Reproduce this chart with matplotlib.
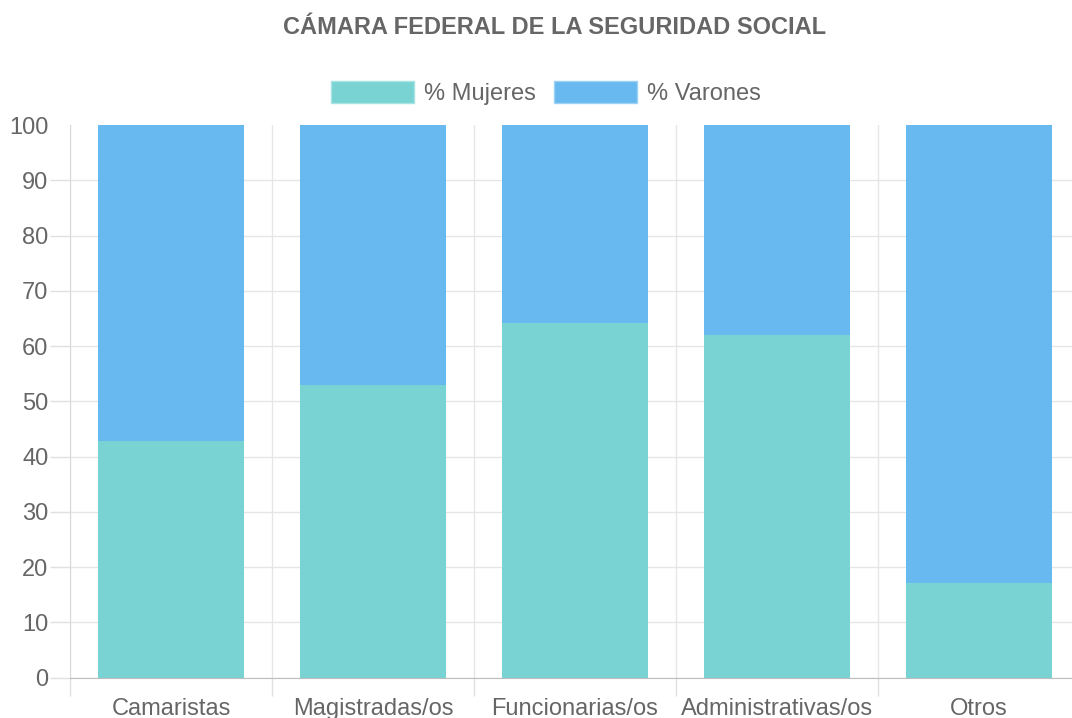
import numpy as np
import matplotlib
matplotlib.use("Agg")
import matplotlib.pyplot as plt
from matplotlib.patches import Patch

categorias = ["Camaristas", "Magistradas/os", "Funcionarias/os", "Administrativas/os", "Otros"]
mujeres = [42.9, 53.0, 64.2, 62.0, 17.1]
varones = [57.1, 47.0, 35.8, 38.0, 82.9]

color_mujeres = "#7AD3D3"
color_varones = "#67B9F0"
gris_texto = "#666666"
gris_grilla = "#E6E6E6"

plt.rcParams['font.family'] = ['Liberation Sans', 'DejaVu Sans']

fig = plt.figure(figsize=(10.72, 7.18), dpi=100)
# area de graficos en pixeles: x 70..1080 (recortada a la derecha), y 125..677.7
ax = fig.add_axes([70 / 1072, 40.3 / 718, 1010 / 1072, 552.7 / 718])

x = np.arange(len(categorias))
ax.bar(x, mujeres, 0.72, color=color_mujeres, zorder=2)
ax.bar(x, varones, 0.72, bottom=mujeres, color=color_varones, zorder=2)

ax.set_xlim(-0.5, len(categorias) - 0.5)
ax.set_ylim(0, 100)
ax.set_yticks(range(0, 101, 10))
ax.set_xticks(x)
ax.set_xticklabels(categorias)
ax.set_xticks(np.arange(-0.5, len(categorias), 1), minor=True)

ax.tick_params(axis='x', which='major', length=0, pad=14.5, labelsize=17, labelcolor=gris_texto)
ax.tick_params(axis='x', which='minor', length=13, color="#E0E0E0", width=1)
ax.tick_params(axis='y', length=14.4, color="#E0E0E0", width=1, pad=1, labelsize=17, labelcolor=gris_texto)

ax.grid(axis='y', color=gris_grilla, lw=1, zorder=0)
ax.grid(axis='x', which='minor', color=gris_grilla, lw=1, zorder=0)
ax.grid(axis='x', which='major', visible=False)
ax.set_axisbelow(True)

# sin linea ni marca en 100
ax.get_ygridlines()[-1].set_visible(False)
ax.yaxis.get_major_ticks()[-1].tick1line.set_visible(False)

for s in ["top", "right"]:
    ax.spines[s].set_visible(False)
ax.spines["left"].set_color("#D9D9D9")
ax.spines["bottom"].set_color("#BDBDBD")

fig.text(555 / 1072, 1 - 27 / 718, "CÁMARA FEDERAL DE LA SEGURIDAD SOCIAL",
         ha='center', va='center', fontsize=17, fontweight='bold', color=gris_texto)

handles = [Patch(facecolor=color_mujeres, edgecolor="#A8E3E3", label="% Mujeres"),
           Patch(facecolor=color_varones, edgecolor="#9DD2F5", label="% Varones")]
fig.legend(handles=handles, loc='center', bbox_to_anchor=(546 / 1072, 1 - 93 / 718),
           ncol=2, frameon=False, fontsize=17, handlelength=3.5, handleheight=1.1,
           handletextpad=0.42, columnspacing=0.8, labelcolor=gris_texto)

fig.savefig("out.png", dpi=100)
